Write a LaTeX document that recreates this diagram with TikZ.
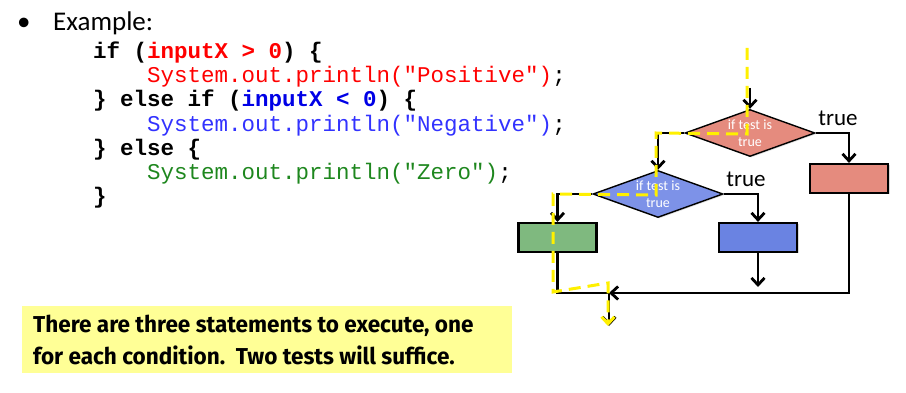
\documentclass[tikz,border=0pt]{standalone}
\usepackage{fontspec}
\setmainfont{Carlito}
\newfontfamily\codefont[WordSpace={1,0,0}]{Liberation Mono}
\newfontfamily\notefont[FakeStretch=0.98]{Fira Sans}
\usetikzlibrary{shapes.geometric,arrows.meta,shadows}
\definecolor{testred}{RGB}{229,139,126}
\definecolor{testblue}{RGB}{125,146,232}
\definecolor{boxblue}{RGB}{106,131,226}
\definecolor{boxgreen}{RGB}{127,185,127}
\definecolor{codered}{RGB}{255,0,0}
\definecolor{codeblue}{RGB}{0,0,230}
\definecolor{printblue}{RGB}{50,50,255}
\definecolor{codegreen}{RGB}{30,135,30}
\definecolor{notefill}{RGB}{255,255,150}
\definecolor{tracecol}{RGB}{255,240,0}
\newcommand{\kw}[1]{{\bfseries #1}}

\begin{document}
\begin{tikzpicture}[x=1pt, y=-1pt,
  every node/.style={inner sep=0pt},
  code/.style={anchor=base west, font=\codefont\fontsize{22.5}{24}\selectfont},
  test/.style={diamond, draw=black, line width=1.4pt, minimum width=130pt,
               minimum height=47pt, aspect=2.77, align=center, text=white,
               font=\fontsize{14}{16.5}\selectfont,
               drop shadow={shadow xshift=1.2pt, shadow yshift=-1.2pt, opacity=.25}},
  stmt/.style={rectangle, draw=black, line width=2.2pt, minimum width=78pt,
               minimum height=29pt,
               drop shadow={shadow xshift=1.5pt, shadow yshift=-1.5pt, opacity=.3}},
  truelbl/.style={font=\fontsize{23}{26}\selectfont},
  flow/.style={line width=2.8pt, -{Straight Barb[length=7pt,width=13pt]}},
  link/.style={line width=2.8pt},
  trace/.style={draw=tracecol, line width=3pt, dash pattern=on 12pt off 7pt,
                -{Straight Barb[length=7pt,width=13pt]}},
  note/.style={anchor=base west, font=\notefont\bfseries\fontsize{23}{26}\selectfont}
]
  \useasboundingbox (0,0) rectangle (906,393);

  % heading and code
  \node[anchor=base west, font=\fontsize{27}{30}\selectfont] (bul) at (17,31) {\textbullet};
  \node[anchor=base west, font=\fontsize{27}{30}\selectfont] (head) at (53,31) {Example:};
  \node[code] (l1) at (93,58.5)  {\kw{if (}\textcolor{codered}{\kw{inputX > 0}}\kw{) \{}};
  \node[code] (l2) at (147,82.7) {\textcolor{codered}{System.out.println("Positive")};};
  \node[code] (l3) at (93,106.9) {\kw{\} else if (}\textcolor{codeblue}{\kw{inputX < 0}}\kw{) \{}};
  \node[code] (l4) at (147,131.1){\textcolor{printblue}{System.out.println("Negative")};};
  \node[code] (l5) at (93,155.3) {\kw{\} else \{}};
  \node[code] (l6) at (147,179.5){\textcolor{codegreen}{System.out.println("Zero")};};
  \node[code] (l7) at (93,203.7) {\kw{\}}};

  % flowchart
  \node[test, fill=testred]  (t1) at (750,133) {if test is\\true};
  \node[test, fill=testblue] (t2) at (658,194) {if test is\\true};
  \node[stmt, fill=testred]  (sp) at (849,178.5) {};
  \node[stmt, fill=boxblue]  (sn) at (758,237.5) {};
  \node[stmt, fill=boxgreen] (sz) at (557.5,237.5) {};
  \node[truelbl] (tt1) at (838,118) {true};
  \node[truelbl] (tt2) at (746,179) {true};

  \coordinate (in)   at (750,88);
  \coordinate (out)  at (758,287);
  \coordinate (join) at (609,293);
  \coordinate (done) at (609,326);

  \draw[flow] (in) -- (t1.north);
  \draw[flow] (t1.east) -| (sp.north);
  \draw[flow] (t1.west) -| (t2.north);
  \draw[flow] (t2.east) -| (sn.north);
  \draw[flow] (t2.west) -| (sz.north);
  \draw[flow] (sn.south) -- (out);
  \draw[flow] (sp.south) |- (join);
  \draw[link] (sz.south) |- (join);
  \draw[flow] (join) -- (done);

  % path taken when inputX is zero
  \draw[trace] (747,48) -- (747,134) -- (656,133) -- (656,195) -- (553,194)
    -- (553,292) -- (608,283) -- (608,326);

  % note
  \fill[notefill] (22,306) rectangle (512,373);
  \node[note] (n1) at (33,332) {There are three statements to execute, one};
  \node[note] (n2) at (33,364) {for each condition.\ \ Two tests will suffice.};
\end{tikzpicture}
\end{document}
